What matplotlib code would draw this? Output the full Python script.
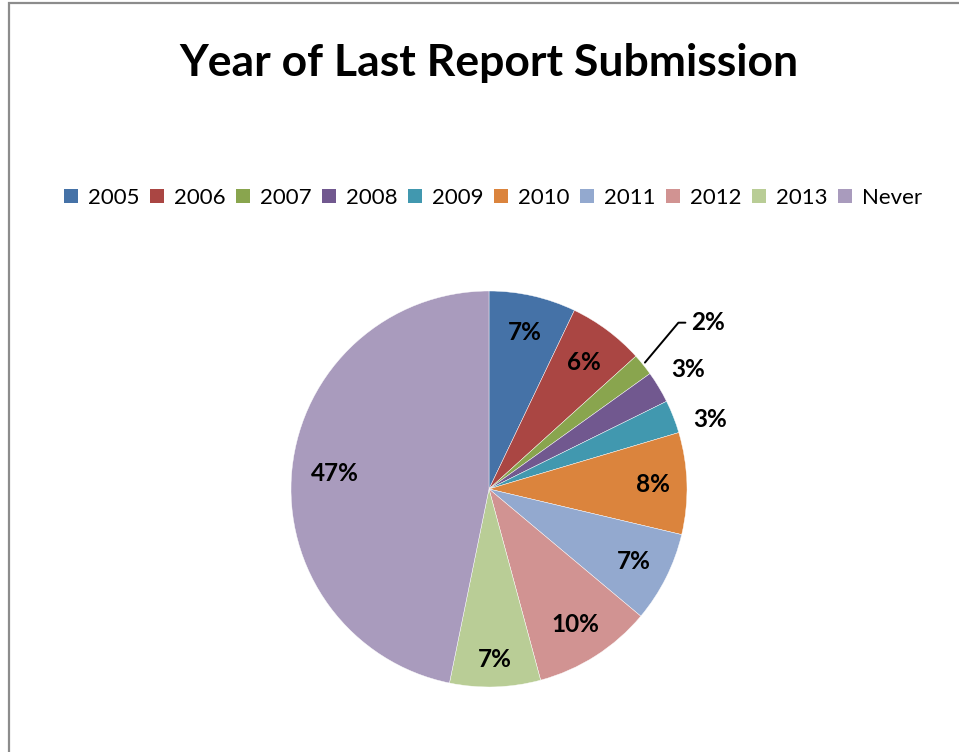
import numpy as np
import matplotlib.pyplot as plt
from matplotlib.patches import Rectangle

# Share of reports by year of last submission (percent)
years = ['2005', '2006', '2007', '2008', '2009', '2010', '2011', '2012', '2013', 'Never']
shares = [7.1, 6.2, 1.8, 2.6, 2.7, 8.3, 7.4, 9.7, 7.4, 46.8]
colors = ['#4572A7', '#AA4643', '#89A54E', '#71588F', '#4198AF',
          '#DB843D', '#93A9CF', '#D19392', '#B9CD96', '#A99BBD']

plt.rcParams['font.family'] = ['Lato', 'DejaVu Sans']

fig = plt.figure(figsize=(9.59, 7.52), dpi=100)

# gray chart border (left and top edges visible)
fig.patches.append(Rectangle((8.5 / 959, -0.1), 1.2, 1.1 - 3.5 / 752, transform=fig.transFigure,
                             fill=False, edgecolor='#8c8c8c', linewidth=1.6))

fig.text(489 / 959, 1 - 63 / 752, 'Year of Last Report Submission',
         ha='center', va='center', fontsize=32, fontweight='bold')

# pie axes, square in pixels
ax = fig.add_axes([291 / 959, 1 - 687 / 752, 396 / 959, 396 / 752])
wedges, _ = ax.pie(shares, colors=colors, startangle=90, counterclock=False,
                   radius=1, wedgeprops=dict(edgecolor='white', linewidth=0.3))
ax.set_xlim(-1, 1)
ax.set_ylim(-1, 1)
ax.axis('off')

# label radius / angle nudge (deg) for each wedge; None = outside label with leader line
label_r = [0.81, 0.80, None, 1.17, 1.17, 0.83, 0.82, 0.81, 0.86, 0.78]
label_nudge = [0, 0, 0, 0, -4, 0, 0, 0, 0, 0]
for w, val, r, dn in zip(wedges, shares, label_r, label_nudge):
    mid = np.deg2rad((w.theta1 + w.theta2) / 2 + dn)
    txt = '%d%%' % round(val)
    if r is None:
        x0, y0 = np.cos(mid), np.sin(mid)
        ax.annotate(txt, xy=(x0, y0), xytext=(1.02, 0.84),
                    ha='left', va='center', fontsize=17.5, fontweight='bold',
                    arrowprops=dict(arrowstyle='-', color='black', lw=1.4,
                                    connectionstyle='angle,angleA=0,angleB=50,rad=0'),
                    annotation_clip=False)
    else:
        ax.text(r * np.cos(mid), r * np.sin(mid), txt, ha='center', va='center',
                fontsize=17.5, fontweight='bold')

handles = [Rectangle((0, 0), 1, 1, facecolor=c) for c in colors]
fig.legend(handles, years, loc='center', bbox_to_anchor=(493 / 959, 1 - 198 / 752),
           ncol=10, frameon=False, fontsize=16, handlelength=0.6, handleheight=0.6,
           handletextpad=0.45, columnspacing=0.5)

fig.savefig('out.png', dpi=100)
